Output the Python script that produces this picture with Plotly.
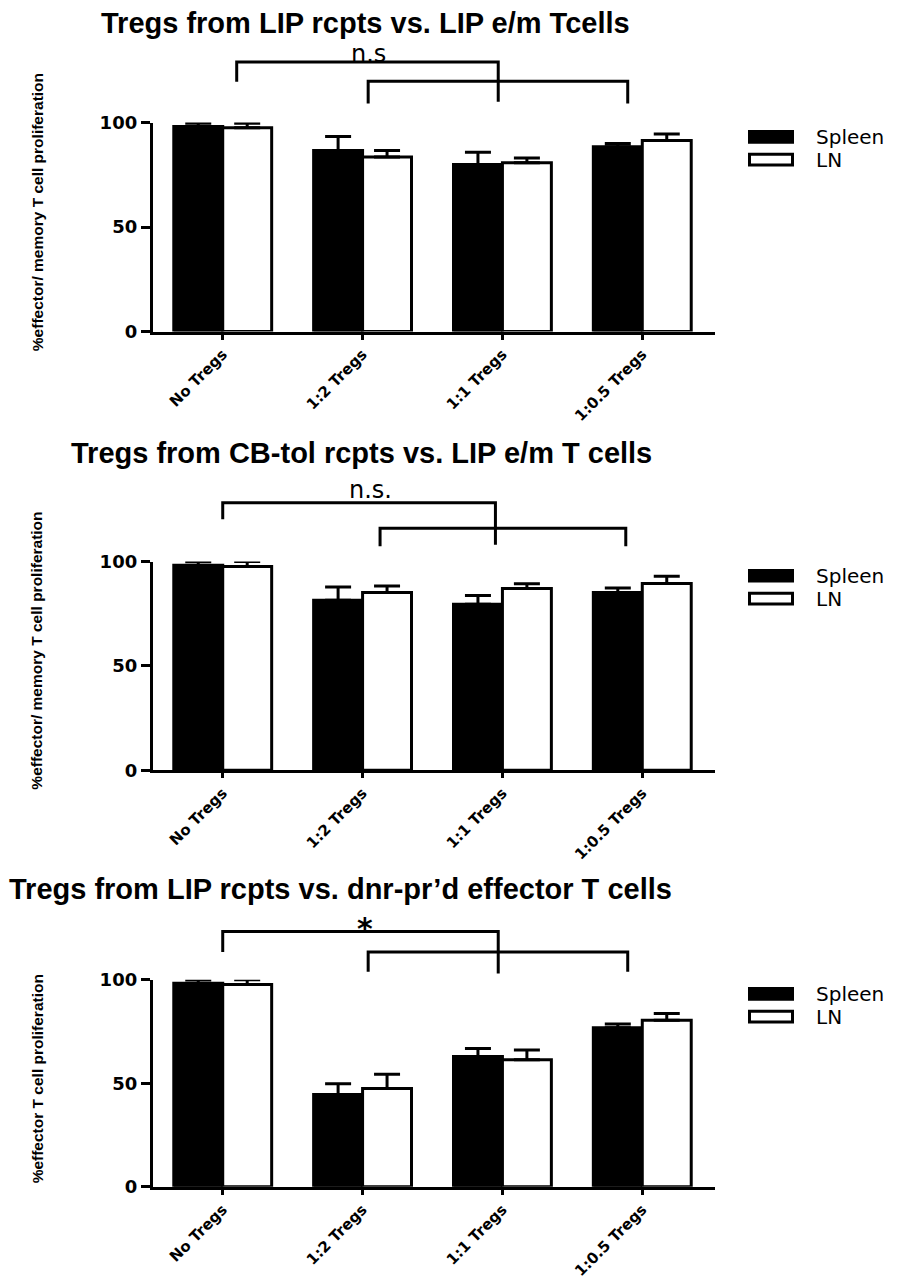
import plotly.graph_objects as go

# ---------------- data ----------------
categories = ["No Tregs", "1:2 Tregs", "1:1 Tregs", "1:0.5 Tregs"]
series_names = ["Spleen", "LN"]

p1_spleen = [98.2, 86.6, 80.0, 88.4]
p1_spleen_err = [1.5, 6.8, 5.8, 1.6]
p1_ln = [97.6, 83.6, 80.8, 91.4]
p1_ln_err = [2.1, 3.0, 2.3, 3.1]

p2_spleen = [98.3, 81.5, 79.6, 85.2]
p2_spleen_err = [1.7, 6.3, 4.2, 2.1]
p2_ln = [97.6, 85.2, 87.1, 89.5]
p2_ln_err = [2.4, 3.1, 2.3, 3.5]

p3_spleen = [98.3, 44.5, 62.9, 76.8]
p3_spleen_err = [1.7, 5.3, 3.9, 1.8]
p3_ln = [97.6, 47.5, 61.3, 80.4]
p3_ln_err = [2.4, 6.8, 4.7, 3.3]

titles = [
    "Tregs from LIP rcpts vs. LIP e/m Tcells",
    "Tregs from CB-tol rcpts vs. LIP e/m T cells",
    "Tregs from LIP rcpts vs. dnr-pr\u2019d effector T cells",
]
ytitles = [
    "%effector/ memory T cell proliferation",
    "%effector/ memory T cell proliferation",
    "%effector T cell proliferation",
]
sig_labels = ["n.s", "n.s.", "*"]
y_ticks = [0, 50, 100]

# ---------------- layout helpers (pixel -> paper) ----------------
W, H = 910, 1280
def PX(p):
    return p / W
def PY(p):
    return 1 - p / H

X_LEFT, X_RIGHT = 152.8, 715.0
panel_y = [(328.3, 114.3), (777.5, 563.8), (1204.0, 991.9)]  # (zero px, 100 px)
title_pos = [(365, 12.5), (361, 453), (340, 899)]
ytitle_pos = [(37, 206), (37, 655), (37, 1094)]
legend_rows = [128.8, 152.2]  # centre rows of the legend in panel 1 (px)

# brackets in data units: (x0, x1, ytop, yleft_bottom, yright_bottom)
brackets = [
    [(0.10, 1.97, 129.0, 119.5, 110.0), (1.04, 2.896, 119.8, 109.2, 109.2)],
    [(0.00, 1.95, 128.2, 120.3, 108.1), (1.125, 2.882, 116.0, 107.3, 107.3)],
    [(0.00, 1.97, 123.3, 113.4, 103.0), (1.04, 2.896, 113.4, 103.8, 103.8)],
]
sig_pos = [(1.04, 133.0), (1.057, 134.3), (1.02, 124.5)]

spleen_all = [p1_spleen, p2_spleen, p3_spleen]
spleen_err_all = [p1_spleen_err, p2_spleen_err, p3_spleen_err]
ln_all = [p1_ln, p2_ln, p3_ln]
ln_err_all = [p1_ln_err, p2_ln_err, p3_ln_err]

BOLD_WIDE = "DejaVu Sans, Verdana, Arial, sans-serif"
TITLE_FONT = "Liberation Sans, Arial, Helvetica, sans-serif"

fig = go.Figure()
shapes = []
annotations = []

for i in range(3):
    xa = "x" if i == 0 else f"x{i+1}"
    ya = "y" if i == 0 else f"y{i+1}"
    for name, vals, errs, fill in [
        (series_names[0], spleen_all[i], spleen_err_all[i], "black"),
        (series_names[1], ln_all[i], ln_err_all[i], "white"),
    ]:
        fig.add_trace(go.Bar(
            x=categories, y=vals, name=name, xaxis=xa, yaxis=ya,
            marker=dict(color=fill, line=dict(color="black", width=3)),
            error_y=dict(type="data", array=errs, arrayminus=[0] * len(errs),
                         symmetric=False, color="black", thickness=3, width=13),
            showlegend=False, cliponaxis=False,
        ))

    z, h = panel_y[i]
    xkey = "xaxis" if i == 0 else f"xaxis{i+1}"
    ykey = "yaxis" if i == 0 else f"yaxis{i+1}"
    fig.update_layout(**{
        xkey: dict(domain=[PX(X_LEFT), PX(X_RIGHT)], anchor=ya, range=[-0.5, 3.52],
                   showline=True, linecolor="black", linewidth=3, ticks="outside",
                   ticklen=5, tickwidth=2.5, tickcolor="black", tickangle=-45,
                   tickfont=dict(family=BOLD_WIDE, size=15, color="black", weight="bold"),
                   showgrid=False, zeroline=False, fixedrange=True),
        ykey: dict(domain=[PY(z), PY(h)], anchor=xa, range=[0, 100],
                   showline=True, linecolor="black", linewidth=3, ticks="outside",
                   ticklen=9, tickwidth=2.5, tickcolor="black", tickvals=y_ticks,
                   tickfont=dict(family=BOLD_WIDE, size=18, color="black", weight="bold"),
                   showgrid=False, zeroline=False, fixedrange=True),
    })

    # significance brackets
    for (x0, x1, yt, yl, yr) in brackets[i]:
        path = (f"M {x0},{yl/100} L {x0},{yt/100} L {x1},{yt/100} L {x1},{yr/100}")
        shapes.append(dict(type="path", path=path, xref=xa, yref=f"{ya} domain",
                           line=dict(color="black", width=3)))
    sx, sy = sig_pos[i]
    annotations.append(dict(
        text=sig_labels[i], x=sx, y=sy / 100, xref=xa, yref=f"{ya} domain",
        showarrow=False, xanchor="center", yanchor="middle",
        font=dict(family=BOLD_WIDE, size=24 if i < 2 else 30, color="black",
                  weight="normal" if i < 2 else "bold"),
    ))

    # panel title
    tx, ty = title_pos[i]
    annotations.append(dict(
        text=titles[i], x=PX(tx), y=PY(ty), xref="paper", yref="paper",
        showarrow=False, xanchor="center", yanchor="middle",
        font=dict(family=TITLE_FONT, size=29, color="black", weight="bold"),
    ))
    # y axis title
    yx, yy = ytitle_pos[i]
    annotations.append(dict(
        text=ytitles[i], x=PX(yx), y=PY(yy), xref="paper", yref="paper",
        showarrow=False, xanchor="center", yanchor="middle", textangle=-90,
        font=dict(family=TITLE_FONT, size=15.5, color="black", weight="bold"),
    ))

    # legend (drawn manually to get the wide swatches)
    off = h - panel_y[0][1]
    r1, r2 = legend_rows
    shapes.append(dict(type="rect", xref="paper", yref="paper",
                       x0=PX(749), x1=PX(793), y0=PY(r1 + 6 + off), y1=PY(r1 - 6 + off),
                       fillcolor="black", line=dict(color="black", width=2)))
    shapes.append(dict(type="rect", xref="paper", yref="paper",
                       x0=PX(749.5), x1=PX(792.5), y0=PY(r2 + 5.5 + off), y1=PY(r2 - 5.5 + off),
                       fillcolor="white", line=dict(color="black", width=3)))
    for name, cy in [(series_names[0], r1), (series_names[1], r2)]:
        annotations.append(dict(
            text=name, x=PX(814), y=PY(cy + off), xref="paper", yref="paper",
            showarrow=False, xanchor="left", yanchor="middle",
            font=dict(family=BOLD_WIDE, size=20, color="black"),
        ))

fig.update_layout(
    width=W, height=H,
    margin=dict(l=0, r=0, t=0, b=0),
    paper_bgcolor="white", plot_bgcolor="white",
    barmode="group", bargap=0.30, bargroupgap=0.0,
    shapes=shapes, annotations=annotations,
    showlegend=False,
)

fig.write_html("out.html")
